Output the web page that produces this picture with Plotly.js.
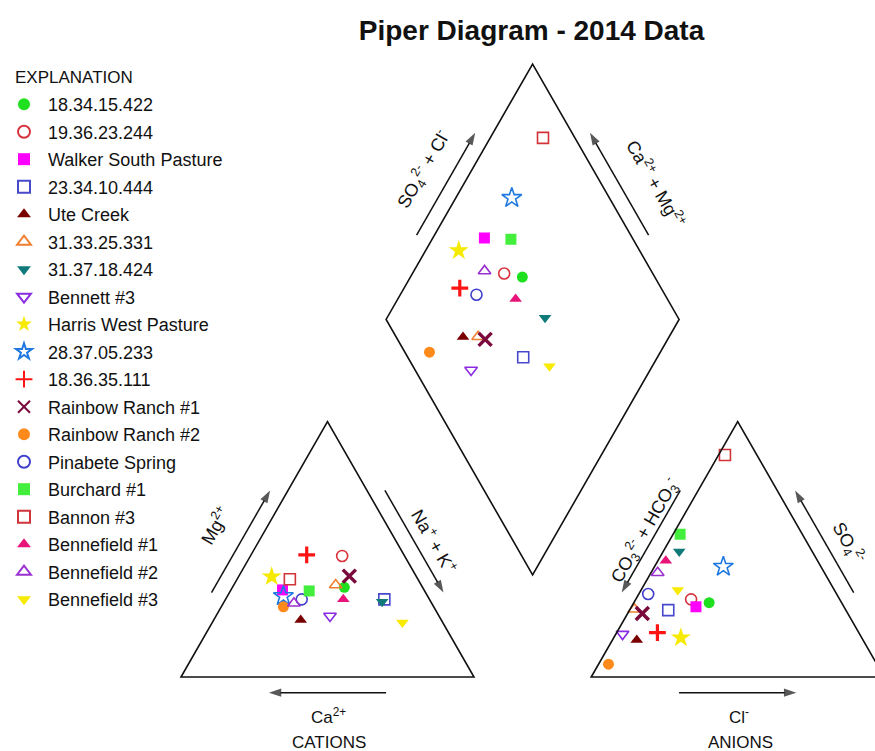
<!DOCTYPE html>
<html>
<head>
<meta charset="utf-8">
<script src="https://cdn.plot.ly/plotly-3.0.1.min.js"></script>
<style>html,body{margin:0;padding:0;background:#fff;}#chart{width:875px;height:751px;}</style>
</head>
<body>
<div id="chart"></div>
<script>
// ---- Data (milliequivalent percentages) ----
const sampleNames = ["18.34.15.422","19.36.23.244","Walker South Pasture","23.34.10.444","Ute Creek",
  "31.33.25.331","31.37.18.424","Bennett #3","Harris West Pasture","28.37.05.233","18.36.35.111",
  "Rainbow Ranch #1","Rainbow Ranch #2","Pinabete Spring","Burchard #1","Bannon #3",
  "Bennefield #1","Bennefield #2","Bennefield #3"];
// cations
const caPct  = [26.7,21.3,48.3,15.4,48.0,29.2,16.6,37.2,49.4,49.2,33.2,22.8,51.3,43.6,39.4,43.7,29.4,47.0,13.8];
const mgPct  = [35.1,47.4,34.1,30.4,22.3,36.0,29.5,23.9,39.3,31.7,47.8,39.5,27.5,30.4,33.7,38.3,30.4,28.9,21.3];
const naKPct = [38.2,31.3,17.6,54.2,29.7,34.8,53.9,38.9,11.3,19.1,19.0,37.7,21.2,26.0,26.9,18.0,40.2,24.1,64.9];
// anions
const clPct   = [25.7,18.9,22.0,13.2, 8.3, 1.5, 5.5, 2.3,22.9,23.5,13.9, 5.0, 3.4, 3.2, 2.4, 2.2, 2.7, 2.3,12.5];
const so4Pct  = [29.1,30.4,27.5,26.2,14.5,26.5,49.1,16.8,15.4,43.2,17.4,24.9, 5.0,32.5,55.9,86.9,45.5,40.8,34.1];
const hco3Pct = [45.2,50.7,50.5,60.6,77.2,72.0,45.4,80.9,61.7,33.3,68.7,70.1,91.6,64.3,41.7,10.9,51.8,56.9,53.4];

// ---- Styles ----
const markerStyles = [
  {symbol:'circle', color:'#1fe01f', size:11},
  {symbol:'circle-open', color:'#d8323c', size:11, lw:1.6},
  {symbol:'square', color:'#ff00ff', size:11},
  {symbol:'square-open', color:'#4848cc', size:11, lw:1.6},
  {symbol:'triangle-up', color:'#7a0000', size:11},
  {symbol:'triangle-up-open', color:'#ee8030', size:11, lw:1.6},
  {symbol:'triangle-down', color:'#107a7a', size:11},
  {symbol:'triangle-down-open', color:'#8a2be2', size:11, lw:1.6},
  {symbol:'star', color:'#f5ea00', size:15},
  {symbol:'star-open', color:'#1e78e0', size:15, lw:1.6},
  {symbol:'cross-thin-open', color:'#ff1414', size:12, lw:3.2},
  {symbol:'x-thin-open', color:'#7a0a3c', size:13, lw:3.5},
  {symbol:'circle', color:'#ff8a1c', size:11},
  {symbol:'circle-open', color:'#4040cc', size:11, lw:1.6},
  {symbol:'square', color:'#44ee3c', size:11},
  {symbol:'square-open', color:'#d0343a', size:11, lw:1.6},
  {symbol:'triangle-up', color:'#e8147a', size:11},
  {symbol:'triangle-up-open', color:'#9a30d0', size:11, lw:1.6},
  {symbol:'triangle-down', color:'#f8ea00', size:11}
];

// ---- Piper geometry (triangle side = 100, gap = 40) ----
const H = Math.sqrt(3)/2;
const GAP = 40;
const AX0 = 100 + GAP; // anion triangle left x
function cationXY(i){ return [naKPct[i] + mgPct[i]/2, H*mgPct[i]]; }
function anionXY(i){ return [AX0 + clPct[i] + so4Pct[i]/2, H*so4Pct[i]]; }
function diamondXY(i){
  const a = (clPct[i] + so4Pct[i]) / 100;
  const c = naKPct[i] / 100;
  const bx = 100 + GAP/2, by = H*GAP;
  return [bx + 50*a - 50*(1-c), by + 100*H*(a + 1 - c)];
}

const F = {family:'"Liberation Sans", Arial, sans-serif', size:18, color:'#111'};

// outlines
const D = {bx:100+GAP/2, by:H*GAP};
const shapes = [
  {type:'path', path:`M0,0 L100,0 L50,${100*H} Z`},
  {type:'path', path:`M${AX0},0 L${AX0+100},0 L${AX0+50},${100*H} Z`},
  {type:'path', path:`M${D.bx},${D.by} L${D.bx-50},${D.by+100*H} L${D.bx},${D.by+200*H} L${D.bx+50},${D.by+100*H} Z`}
].map(s=>Object.assign(s,{xref:'x',yref:'y',line:{color:'#111',width:1.6},fillcolor:'rgba(0,0,0,0)'}));

// arrows along edges (offset outward), drawn as line + arrow-marker traces
const OFF = 5.3;
function edgeArrow(p0, p1, nrm, t0, t1){
  const s = [p0[0]+(p1[0]-p0[0])*t0 + nrm[0]*OFF, p0[1]+(p1[1]-p0[1])*t0 + nrm[1]*OFF];
  const e = [p0[0]+(p1[0]-p0[0])*t1 + nrm[0]*OFF, p0[1]+(p1[1]-p0[1])*t1 + nrm[1]*OFF];
  return {type:'scatter', mode:'lines+markers', x:[s[0],e[0]], y:[s[1],e[1]], showlegend:false, hoverinfo:'skip',
    cliponaxis:false,
    line:{color:'#111', width:1.5},
    marker:{symbol:['circle','arrow'], size:[0,13], color:'#111', angleref:'previous', line:{width:0}}};
}
const nL = [-H, 0.5], nR = [H, 0.5], nB = [0,-1];
const arrowTraces = [
  edgeArrow([0,0],[50,100*H], nL, 0.3, 0.7),             // Mg up
  edgeArrow([50,100*H],[100,0], nR, 0.3, 0.7),           // Na+K down
  edgeArrow([100,0],[0,0], nB, 0.3, 0.7),                 // Ca left
  edgeArrow([D.bx-50,D.by+100*H],[D.bx,D.by+200*H], nL, 0.3, 0.7), // SO4+Cl up
  edgeArrow([D.bx+50,D.by+100*H],[D.bx,D.by+200*H], nR, 0.3, 0.7), // Ca+Mg up
  edgeArrow([AX0+50,100*H],[AX0,0], nL, 0.3, 0.7),       // CO3+HCO3 down
  edgeArrow([AX0+100,0],[AX0+50,100*H], nR, 0.3, 0.7),   // SO4 up
  edgeArrow([AX0,0],[AX0+100,0], nB, 0.3, 0.7)            // Cl right
];

const traces = arrowTraces.concat(sampleNames.map((name,i)=>{
  const p1 = cationXY(i), p2 = anionXY(i), p3 = diamondXY(i);
  const s = markerStyles[i];
  const open = s.symbol.indexOf('open') >= 0;
  return {
    type:'scatter', mode:'markers', name:name, legendgroup:'g'+i,
    x:[p1[0],p2[0],p3[0]], y:[p1[1],p2[1],p3[1]],
    cliponaxis:false,
    marker:{symbol:s.symbol, size:s.size, color:s.color,
      line:{color:s.color, width: open ? (s.lw||1.6) : 0}},
    hoverinfo:'name'
  };
}));

function lab(text,x,y,ang,size){
  return {text:text, x:x, y:y, xref:'x', yref:'y', showarrow:false, textangle:ang||0,
    xanchor:'center', yanchor:'middle', font:Object.assign({},F,{size:size||18})};
}
const labels = [
  lab('Mg<sup>2+</sup>', 11.5, 51.5, -60),
  lab('Na<sup>+</sup> + K<sup>+</sup>', 86.5, 46.0, 60),
  lab('Ca<sup>2+</sup>', 50.5, -13.2, 0, 17),
  lab('CATIONS', 50.5, -22.3, 0, 17),
  lab('SO<sub>4</sub><sup>2-</sup> + Cl<sup>-</sup>', 82.8, 172.0, -60),
  lab('Ca<sup>2+</sup> + Mg<sup>2+</sup>', 162.2, 167.5, 60),
  lab('CO<sub>3</sub><sup>2-</sup> + HCO<sub>3</sub><sup>-</sup>', 158.2, 49.8, -60),
  lab('SO<sub>4</sub><sup>2-</sup>', 227.6, 45.5, 60),
  lab('Cl<sup>-</sup>', 190.6, -13.2, 0, 17),
  lab('ANIONS', 191.1, -22.3, 0, 17),
  {text:'EXPLANATION', x:13/875, y:1-77/751, xref:'paper', yref:'paper', xanchor:'left', yanchor:'middle',
    showarrow:false, font:Object.assign({},F,{size:17})}
];

const layout = {
  width:875, height:751,
  margin:{l:0,r:0,t:0,b:0},
  paper_bgcolor:'#fff', plot_bgcolor:'#fff',
  font:F,
  title:{text:'<b>Piper Diagram - 2014 Data</b>', x:531.5/875, xanchor:'center', y:1-30/751, yanchor:'middle',
    font:{family:'"Liberation Sans", Arial, sans-serif', size:28, color:'#111'}},
  xaxis:{range:[-181/2.93, 694/2.93], visible:false, fixedrange:true},
  yaxis:{range:[-74/2.949, 677/2.949], visible:false, fixedrange:true},
  showlegend:true,
  legend:{x:0, y:1-86/751, xanchor:'left', yanchor:'top', bgcolor:'rgba(0,0,0,0)',
    font:F, tracegroupgap:1.1, itemwidth:38, itemsizing:'constant'},
  shapes:shapes,
  annotations:labels
};
Plotly.newPlot('chart', traces, layout, {staticPlot:true});
</script>
</body>
</html>
